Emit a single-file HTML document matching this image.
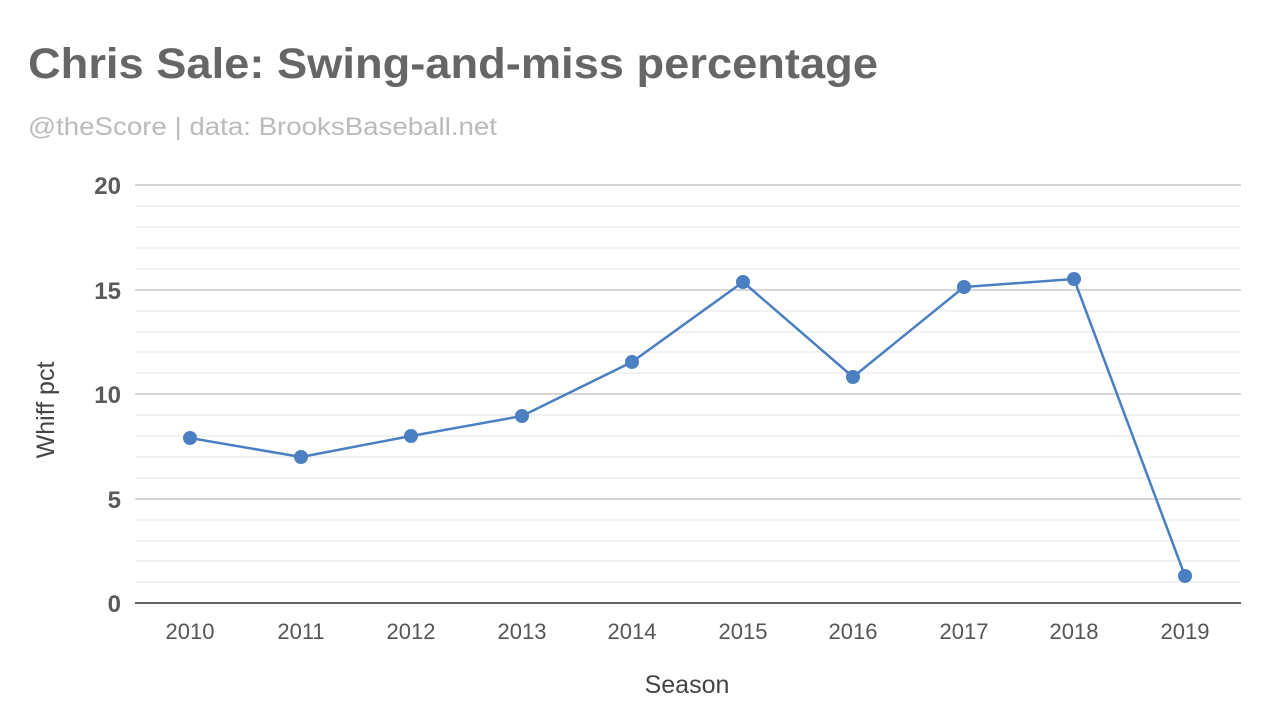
<!DOCTYPE html>
<html><head><meta charset="utf-8"><style>
body{margin:0;background:#fff;}
svg{display:block;font-family:"Liberation Sans",sans-serif;}
</style></head><body>
<svg width="1280" height="720" viewBox="0 0 1280 720">
<rect width="1280" height="720" fill="#fff"/>
<text x="28" y="78" font-size="43" font-weight="bold" fill="#666" textLength="850" lengthAdjust="spacingAndGlyphs">Chris Sale: Swing-and-miss percentage</text>
<text x="28" y="135" font-size="25" fill="#bbb" textLength="469" lengthAdjust="spacingAndGlyphs">@theScore | data: BrooksBaseball.net</text>
<g stroke="#e6e6e6" stroke-width="1">
<line x1="135" x2="1241" y1="206" y2="206"/><line x1="135" x2="1241" y1="227" y2="227"/><line x1="135" x2="1241" y1="248" y2="248"/><line x1="135" x2="1241" y1="269" y2="269"/>
<line x1="135" x2="1241" y1="311" y2="311"/><line x1="135" x2="1241" y1="332" y2="332"/><line x1="135" x2="1241" y1="352" y2="352"/><line x1="135" x2="1241" y1="373" y2="373"/>
<line x1="135" x2="1241" y1="415" y2="415"/><line x1="135" x2="1241" y1="436" y2="436"/><line x1="135" x2="1241" y1="457" y2="457"/><line x1="135" x2="1241" y1="478" y2="478"/>
<line x1="135" x2="1241" y1="520" y2="520"/><line x1="135" x2="1241" y1="541" y2="541"/><line x1="135" x2="1241" y1="561" y2="561"/><line x1="135" x2="1241" y1="582" y2="582"/>
</g>
<g stroke="#c8c8c8" stroke-width="1.5">
<line x1="135" x2="1241" y1="185" y2="185"/><line x1="135" x2="1241" y1="290" y2="290"/><line x1="135" x2="1241" y1="394" y2="394"/><line x1="135" x2="1241" y1="499" y2="499"/>
</g>
<line x1="135" x2="1241" y1="603" y2="603" stroke="#333" stroke-width="1.5"/>
<g font-size="24" font-weight="bold" fill="#5a5a5a" text-anchor="end">
<text x="121" y="194">20</text><text x="121" y="299">15</text><text x="121" y="403">10</text><text x="121" y="508">5</text><text x="121" y="612">0</text>
</g>
<g font-size="22" fill="#555" text-anchor="middle">
<text x="190" y="639">2010</text><text x="301" y="639">2011</text><text x="411" y="639">2012</text><text x="522" y="639">2013</text><text x="632" y="639">2014</text><text x="743" y="639">2015</text><text x="853" y="639">2016</text><text x="964" y="639">2017</text><text x="1074" y="639">2018</text><text x="1185" y="639">2019</text>
</g>
<text x="687" y="693" font-size="25" fill="#444" text-anchor="middle">Season</text>
<text transform="translate(54,410) rotate(-90)" font-size="25" fill="#444" text-anchor="middle">Whiff pct</text>
<polyline fill="none" stroke="#4a7fc1" stroke-width="2.5" stroke-linejoin="round" points="190,438 301,457 411,436 522,416 632,362 743,282 853,377 964,287 1074,279 1185,576"/>
<g fill="#4a7fc1">
<circle cx="190" cy="438" r="7"/><circle cx="301" cy="457" r="7"/><circle cx="411" cy="436" r="7"/><circle cx="522" cy="416" r="7"/><circle cx="632" cy="362" r="7"/><circle cx="743" cy="282" r="7"/><circle cx="853" cy="377" r="7"/><circle cx="964" cy="287" r="7"/><circle cx="1074" cy="279" r="7"/><circle cx="1185" cy="576" r="7"/>
</g>
</svg>
</body></html>
